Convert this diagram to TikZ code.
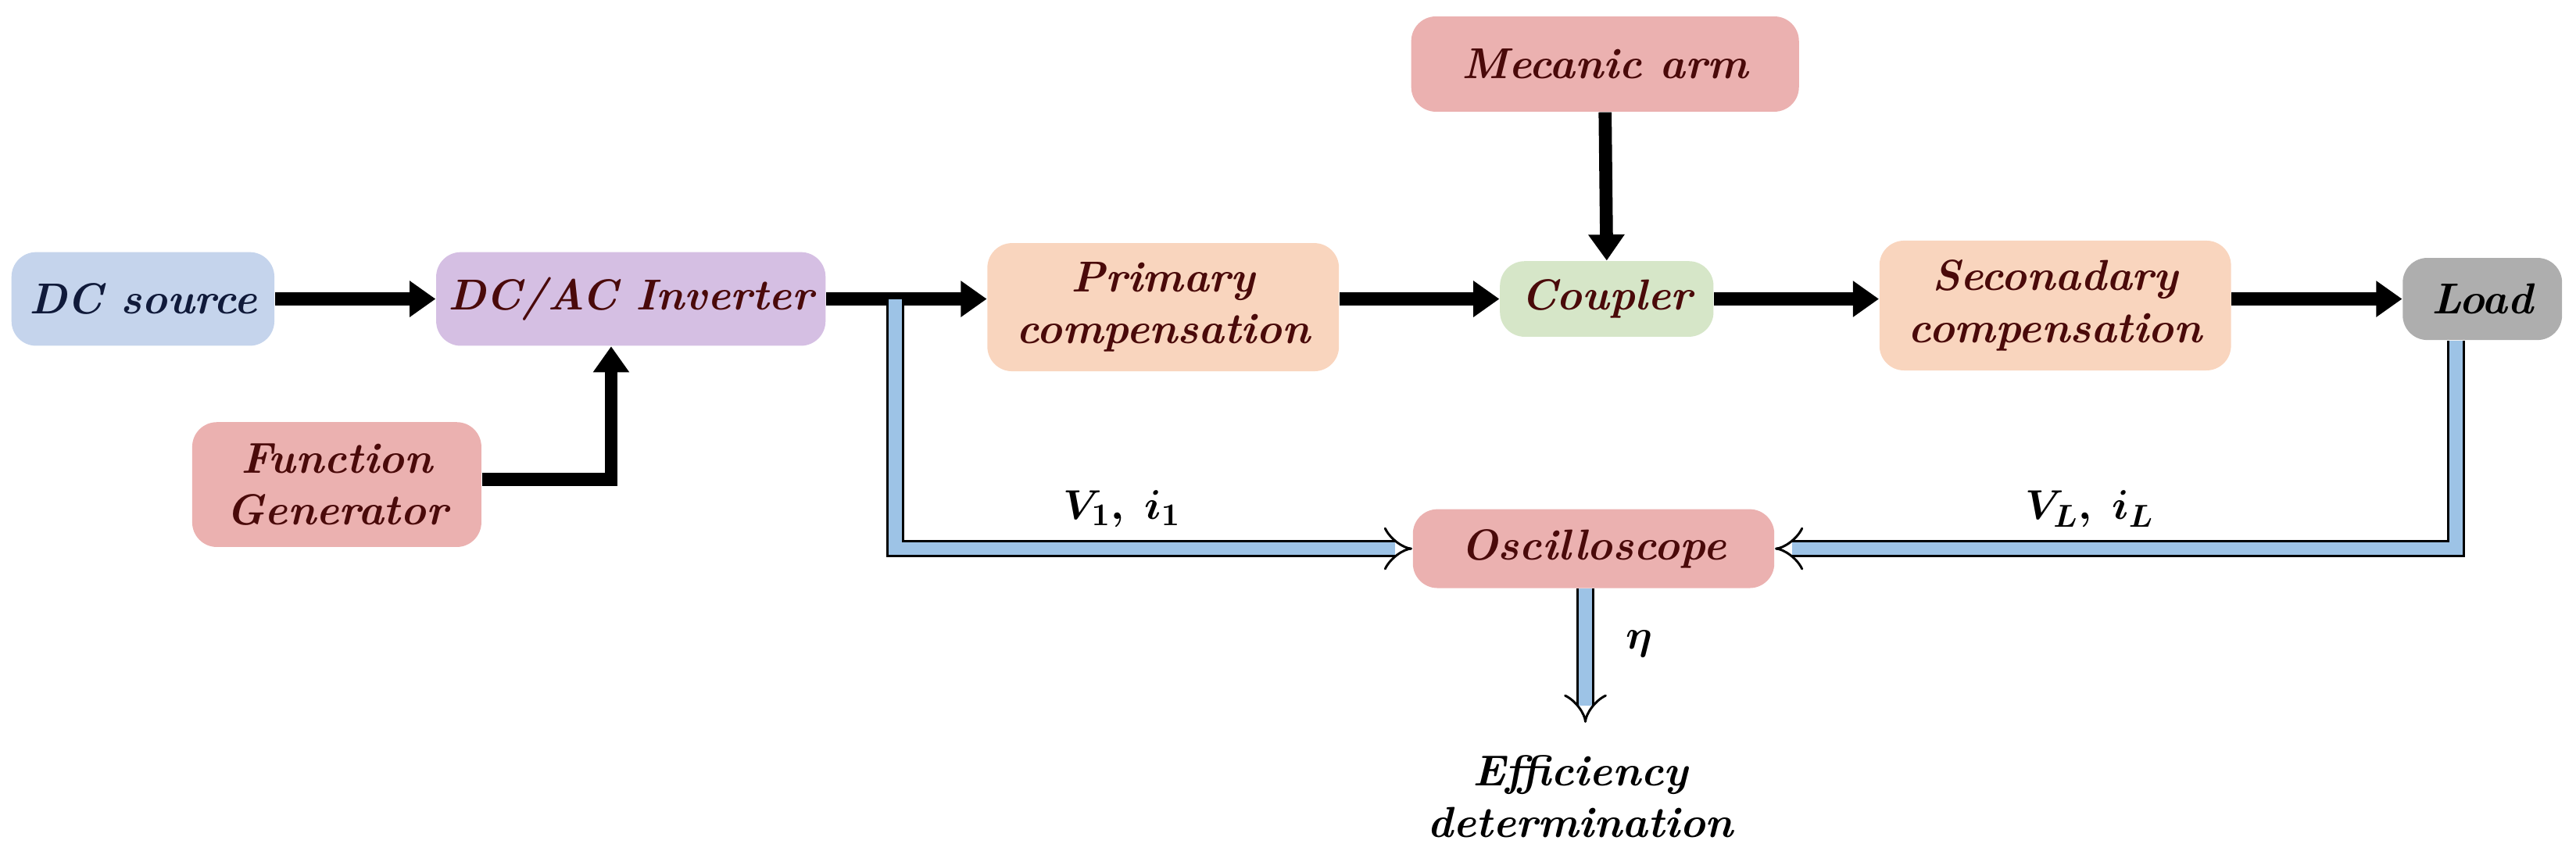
\documentclass[tikz,border=0pt]{standalone}
\usepackage{bm}
\usetikzlibrary{arrows.meta}
\tikzstyle{blk} = [rectangle, rounded corners=0.3cm, inner sep=0mm, align=center,
                   font=\fontsize{15}{18}\selectfont\bfseries\itshape]
\definecolor{cB}{HTML}{C5D4EC}
\definecolor{cP}{HTML}{D5BFE3}
\definecolor{cR}{HTML}{EBB1B0}
\definecolor{cO}{HTML}{F9D5BE}
\definecolor{cG}{HTML}{D6E6C8}
\definecolor{cK}{HTML}{AEAEAE}
\definecolor{txtR}{HTML}{4A0A0A}
\definecolor{txtB}{HTML}{101A3A}
\definecolor{sig}{HTML}{9DC3E6}

\begin{document}
\begin{tikzpicture}[>={Triangle[length=9pt,width=12pt]}]
\useasboundingbox (0,0) rectangle (31.36,10.36);

\node[blk,fill=cB,text=txtB,minimum width=3.2cm,minimum height=1.14cm]
     at (1.74,6.72) (dc) {DC source};
\node[blk,fill=cP,text=txtR,minimum width=4.74cm,minimum height=1.14cm]
     at (7.68,6.72) (inv) {DC/AC Inverter};
\node[blk,fill=cR,text=txtR,minimum width=3.52cm,minimum height=1.52cm]
     at (4.10,4.46) (fg) {Function\\Generator};
\node[blk,fill=cO,text=txtR,minimum width=4.28cm,minimum height=1.56cm]
     at (14.16,6.62) (prim) {Primary\\compensation};
\node[blk,fill=cR,text=txtR,minimum width=4.72cm,minimum height=1.16cm]
     at (19.54,9.58) (arm) {Mecanic arm};
\node[blk,fill=cG,text=txtR,minimum width=2.6cm,minimum height=0.92cm]
     at (19.56,6.72) (cpl) {Coupler};
\node[blk,fill=cO,text=txtR,minimum width=4.28cm,minimum height=1.58cm]
     at (25.02,6.64) (sec) {Seconadary\\compensation};
\node[blk,fill=cK,text=black,minimum width=1.94cm,minimum height=1.0cm]
     at (30.22,6.72) (load) {Load};
\node[blk,fill=cR,text=txtR,minimum width=4.4cm,minimum height=0.96cm]
     at (19.40,3.68) (osc) {Oscilloscope};
\node[blk,align=center] at (19.24,0.66) (eff) {Efficiency\\determination};

\coordinate (tap) at (10.9,6.72);
\coordinate (fgup) at (7.44,4.52);
\coordinate (effin) at (19.3,1.56);

% power path
\draw[->,line width=4.5pt] (dc.east) -- (inv.west);
\draw[->,line width=4.5pt] (inv.east) -- (prim.west |- inv.east);
\draw[->,line width=4.5pt] (prim.east |- cpl.west) -- (cpl.west);
\draw[->,line width=4.5pt] (arm.south) -- (cpl.north);
\draw[->,line width=4.5pt] (cpl.east) -- (sec.west |- cpl.west);
\draw[->,line width=4.5pt] (sec.east |- load.west) -- (load.west);
\draw[->,line width=4.5pt] (fg.east |- fgup) -- (fgup) -- (fgup |- inv.south);

% measurement path
\draw[-Implies,double=sig,double distance=4.5pt,line width=0.8pt]
     (tap) |- (osc.west);
\draw[-Implies,double=sig,double distance=4.5pt,line width=0.8pt]
     ([xshift=-3.2mm]load.south) |- (osc.east);
\draw[-Implies,double=sig,double distance=4.5pt,line width=0.8pt]
     (osc.south -| effin) -- (effin);

\node at (13.66,4.16) (lv1) {\fontsize{15}{18}\selectfont$\bm{V_1,\ i_1}$};
\node at (25.44,4.16) (lvl) {\fontsize{15}{18}\selectfont$\bm{V_L,\ i_L}$};
\node at (19.96,2.52) (leta) {\fontsize{15}{18}\selectfont$\bm{\eta}$};

\end{tikzpicture}
\end{document}
